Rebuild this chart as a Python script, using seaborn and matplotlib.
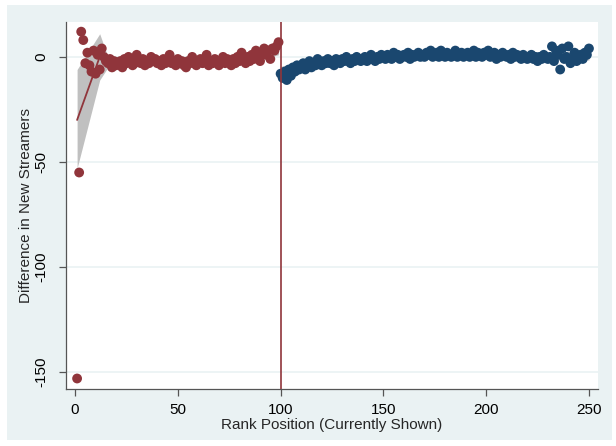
import numpy as np
import pandas as pd
import seaborn as sns
import matplotlib
matplotlib.use("Agg")
import matplotlib.pyplot as plt
from matplotlib.patches import Rectangle

# ---------------- data ----------------
red_vals = [
    -153, -55, 12, 8, -3, 2, -4, -7, 3, -8,
    1, -6, 4, 0, -2, -3, -1, -5, -2, -4,
    -3, -2, -5, -1, -3, 0, -2, -4, -3, 1,
    -2, -3, -1, -4, -2, -3, 0, -2, -1, -3,
    -2, -4, -1, -3, -2, 1, -3, -2, -4, -1,
    -3, -2, -4, -5, -2, -3, 0, -3, -4, -2,
    -1, -3, -2, 1, -4, -2, -3, -1, -2, -4,
    -2, 0, -3, -1, -2, -4, -1, -3, 0, -2,
    2, -1, -3, 0, -2, 1, -1, 3, 0, -2,
    2, 4, 1, 3, -1, 4, 3, 5, 7,
]
red_rank = list(range(1, 100))

blue_vals = [
    -8, -10, -7, -11, -6, -9, -5, -7, -4, -6,
    -5, -3, -6, -4, -2, -5, -3, -4, -1, -3,
    -4, -2, -3, -1, -3, -2, -4, -1, -2, -3,
    -1, -2, 0, -2, -3, -1, -2, 0, -1, -2,
    -1, 0, -2, -1, 1, -1, -2, 0, -1, 1,
    0, -1, 1, 0, -1, 2, 0, 1, -1, 0,
    1, 0, 2, -1, 1, 0, 1, 2, 0, 1,
    0, 2, 1, 3, 0, 1, 2, 0, 3, 1,
    0, 2, 1, 0, 1, 3, 0, 1, 2, 0,
    1, 2, 0, 1, 3, 0, 2, 1, 0, 2,
    1, 3, 0, 1, 2, -1, 1, 0, 2, 1,
    0, 1, -1, 2, 0, 1, 0, -1, 1, 0,
    -1, 0, 1, -1, 0, -2, 0, -1, 1, 0,
    -1, 0, 5, -2, 3, 1, -6, 4, -1, 0,
    5, -3, -1, 2, -2, -1, 1, -1, 2, 1, 4,
]
blue_rank = list(range(100, 251))

# fitted curves and confidence bands
red_fit_rank = [1, 12, 16, 30, 50, 70, 85, 95, 99]
red_fit = [-30, 0, -2, -2, -2, -2, -1, 2, 4]
red_lo = [-53, -11, -5, -3.5, -3.5, -3.5, -3, 0, 1]
red_hi = [-6, 11, 0, -0.5, -0.5, -0.5, 1, 4, 7]

blue_fit_rank = [100, 110, 125, 150, 175, 200, 225, 240, 250]
blue_fit = [-7, -4, -2, -0.5, 0.5, 0.8, 0, 0.5, 1.5]
blue_lo = [-9.5, -5.5, -3, -1.5, -0.5, -0.2, -1, -1.5, -1.5]
blue_hi = [-4.5, -2.5, -1, 0.5, 1.5, 1.8, 1, 2.5, 4.5]

cutoff = 100
x_ticks = [0, 50, 100, 150, 200, 250]
y_ticks = [-150, -100, -50, 0]

# ---------------- style ----------------
RED = "#90353B"
BLUE = "#1A476F"
BAND = "#C0C0C0"
BG = "#EAF2F3"

sns.set_style("white")
plt.rcParams["font.family"] = ["Liberation Sans", "DejaVu Sans"]

fig = plt.figure(figsize=(6.16, 4.46), dpi=100, facecolor="white")
fig.patches.append(Rectangle((7 / 616, 1 - 440 / 446), (612 - 7) / 616, (440 - 5) / 446,
                             transform=fig.transFigure, facecolor=BG, edgecolor="none", zorder=-10))
ax = fig.add_axes([66 / 616, 1 - 389 / 446, (598 - 66) / 616, (389 - 22) / 446])
ax.set_facecolor("white")

df_red = pd.DataFrame({"rank": red_rank, "diff": red_vals})
df_blue = pd.DataFrame({"rank": blue_rank, "diff": blue_vals})
fit_red = pd.DataFrame({"rank": red_fit_rank, "fit": red_fit})
fit_blue = pd.DataFrame({"rank": blue_fit_rank, "fit": blue_fit})

for y in y_ticks:
    ax.axhline(y, color=BG, lw=1.2, zorder=0)

ax.fill_between(red_fit_rank, red_lo, red_hi, color=BAND, lw=0, zorder=1)
ax.fill_between(blue_fit_rank, blue_lo, blue_hi, color=BAND, lw=0, zorder=1)
sns.lineplot(data=fit_red, x="rank", y="fit", color=RED, lw=1.3, ax=ax, zorder=2)
sns.lineplot(data=fit_blue, x="rank", y="fit", color=BLUE, lw=1.3, ax=ax, zorder=2)

sns.scatterplot(data=df_red, x="rank", y="diff", color=RED, s=50, edgecolor="none", ax=ax, zorder=3)
sns.scatterplot(data=df_blue, x="rank", y="diff", color=BLUE, s=50, edgecolor="none", ax=ax, zorder=3)

ax.axvline(cutoff, color=RED, lw=1.2, zorder=4)

ax.set_xlim(-4.4, 254.4)
ax.set_ylim(-158, 16.6)
ax.set_xticks(x_ticks)
ax.set_yticks(y_ticks)
ax.set_yticklabels([str(v) for v in y_ticks], rotation=90, va="center")

for side in ["top", "right"]:
    ax.spines[side].set_visible(False)
for side in ["left", "bottom"]:
    ax.spines[side].set_color("#555555")
    ax.spines[side].set_linewidth(0.9)

ax.tick_params(axis="both", direction="out", length=5, width=0.9, color="#555555",
               labelsize=11, labelcolor="black", left=True, bottom=True)
ax.tick_params(axis="y", pad=8)
ax.tick_params(axis="x", pad=5)

ax.set_xlabel("Rank Position (Currently Shown)", fontsize=11, labelpad=1)
ax.set_ylabel("Difference in New Streamers", fontsize=11, labelpad=1)

fig.savefig("out.png", dpi=100, facecolor="white")
